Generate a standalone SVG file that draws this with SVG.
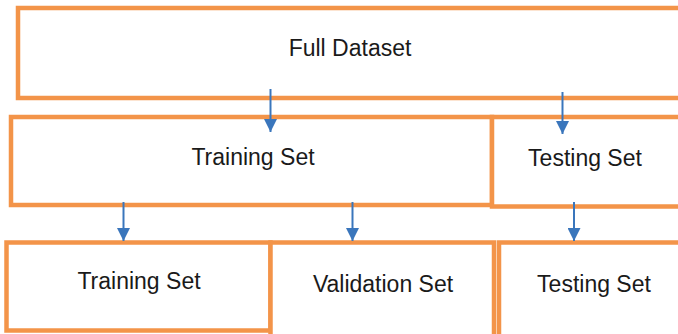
<svg xmlns="http://www.w3.org/2000/svg" width="678" height="334" viewBox="0 0 678 334">
  <style>
    .box { fill: #ffffff; stroke: #F39449; stroke-width: 4.5; }
    .lbl { font-family: "Liberation Sans", Arial, sans-serif; font-size: 23px; fill: #1a1a1a; text-anchor: middle; }
    .conn { stroke: #3A76BC; stroke-width: 2; fill: none; marker-end: url(#arr); }
  </style>
  <defs>
    <marker id="arr" markerUnits="userSpaceOnUse" markerWidth="13" markerHeight="13" refX="13" refY="6.5" orient="auto">
      <path d="M0,0 L13,6.5 L0,13 Z" fill="#3A76BC"/>
    </marker>
  </defs>
  <rect width="678" height="334" fill="#ffffff"/>
  <g id="full-dataset">
    <rect class="box" x="18" y="8" width="680" height="90"/>
    <text class="lbl" x="350" y="56">Full Dataset</text>
  </g>
  <g id="training-set-1">
    <rect class="box" x="11" y="117" width="481" height="88"/>
    <text class="lbl" x="253" y="165">Training Set</text>
  </g>
  <g id="testing-set-1">
    <rect class="box" x="492" y="117" width="220" height="89.5"/>
    <text class="lbl" x="585" y="166">Testing Set</text>
  </g>
  <g id="training-set-2">
    <rect class="box" x="6.5" y="242.5" width="264" height="88"/>
    <text class="lbl" x="139" y="289">Training Set</text>
  </g>
  <g id="validation-set">
    <rect class="box" x="270.5" y="242.5" width="223.5" height="100"/>
    <text class="lbl" x="383" y="292">Validation Set</text>
  </g>
  <g id="testing-set-2">
    <rect class="box" x="499" y="242.5" width="220" height="96"/>
    <text class="lbl" x="594" y="292">Testing Set</text>
  </g>
  <g id="connectors">
    <line class="conn" x1="270.5" y1="89" x2="270.5" y2="132"/>
    <line class="conn" x1="562.5" y1="92" x2="562.5" y2="134"/>
    <line class="conn" x1="123.5" y1="202" x2="123.5" y2="241"/>
    <line class="conn" x1="352.5" y1="202" x2="352.5" y2="241"/>
    <line class="conn" x1="574" y1="202" x2="574" y2="241"/>
  </g>
</svg>
